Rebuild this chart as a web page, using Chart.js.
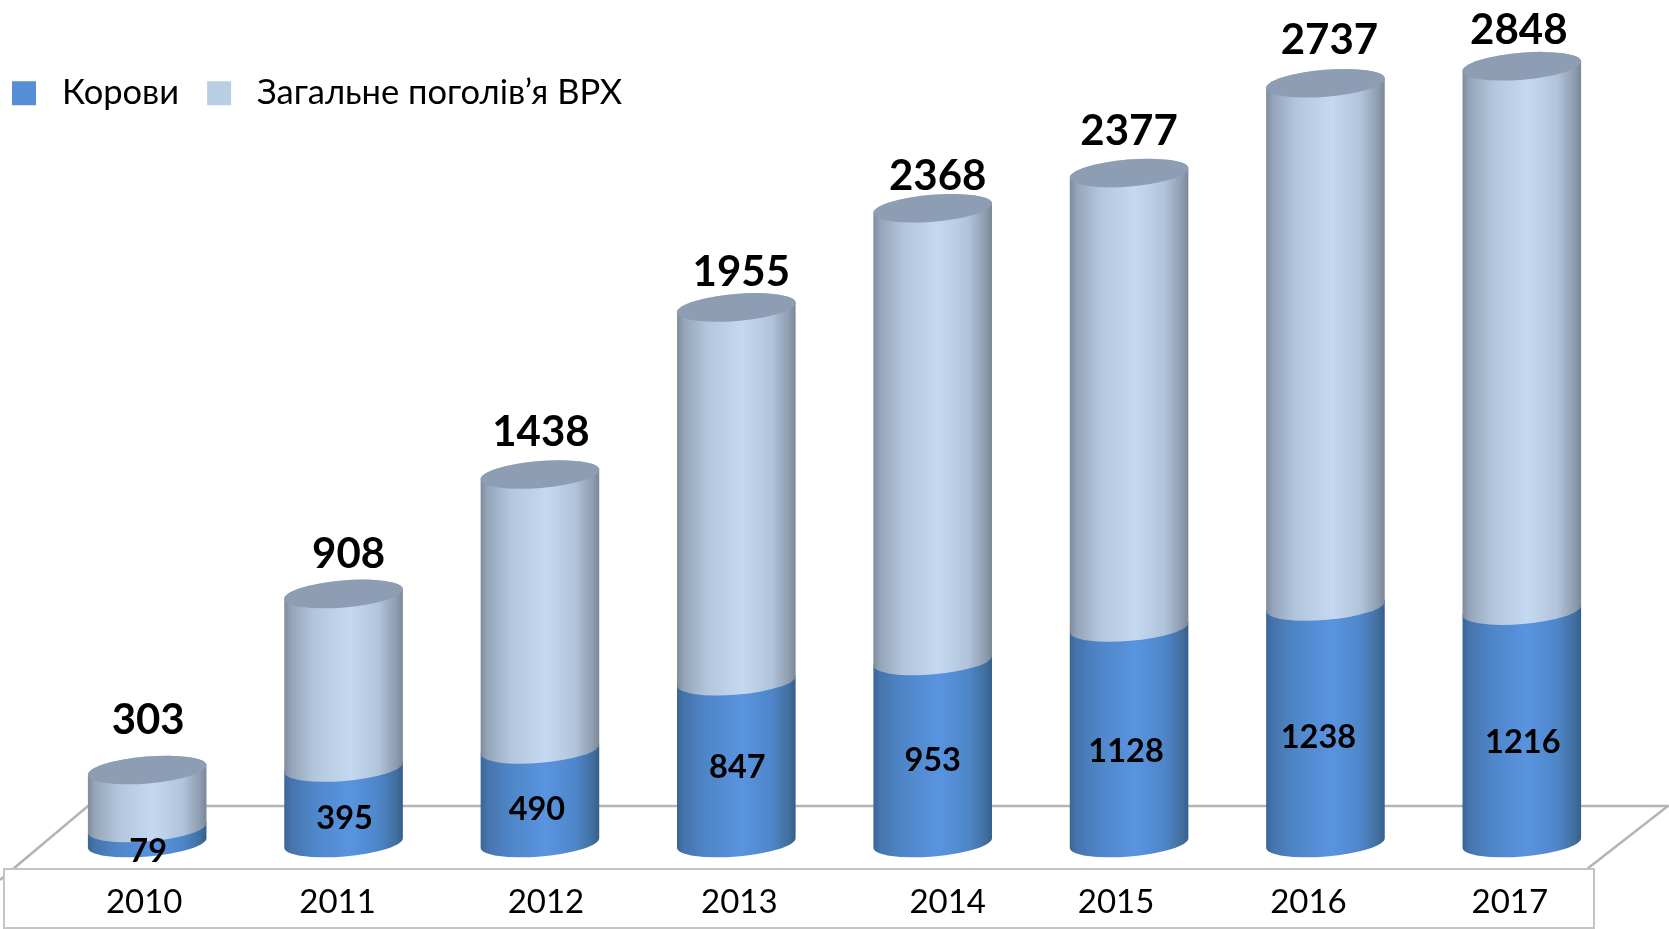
<!DOCTYPE html>
<html lang="uk">
<head>
<meta charset="utf-8">
<title>Поголів’я ВРХ</title>
<script src="https://cdn.jsdelivr.net/npm/chart.js@4/dist/chart.umd.min.js"></script>
<style>
  html, body { margin: 0; background: #fff; }
  canvas { display: block; }
</style>
</head>
<body>
<canvas id="chart" width="1669" height="929"></canvas>
<script>
const years = ['2010', '2011', '2012', '2013', '2014', '2015', '2016', '2017'];
const cows = [79, 395, 490, 847, 953, 1128, 1238, 1216];
const herd = [303, 908, 1438, 1955, 2368, 2377, 2737, 2848];

// the labels were moved by hand in the original, so they sit a bit off centre
const tickShift = [-3, -6, 6, 3, 15, -13, -17, -12];
const herdShiftX = [1, 5, 1, 5, 5, 0, 4, -3];
const herdShiftY = [-9, 2, -1, 6, 9, -1, -2, 5];
const cowShiftX = [1, 1, -3, 1, 0, -3, -7, 1];
const cowShiftY = [2, -1, -1, -9, -5, 2, -1, 2];
const font = 'Lato, "Open Sans", sans-serif';

// horizontal shading of a cylinder wall
function wallGradient(ctx, x0, x1, stops) {
  const g = ctx.createLinearGradient(x0, 0, x1, 0);
  stops.forEach(s => g.addColorStop(s[0], s[1]));
  return g;
}
const cowStops = [[0, '#3a6496'], [0.06, '#4674ad'], [0.25, '#4f86c8'], [0.55, '#5994e0'], [0.8, '#4f86c9'], [0.94, '#41709f'], [1, '#355d8c']];
const herdStops = [[0, '#7d8a9b'], [0.06, '#95a5b9'], [0.25, '#b2c5dc'], [0.55, '#c4d9f1'], [0.8, '#b0c3da'], [0.94, '#8e9db0'], [1, '#7a8795']];

const TILT = -0.084;
const RY = 13.5;

function wall(ctx, x, w, top, bottom, fill) {
  ctx.beginPath();
  ctx.ellipse(x, bottom, w / 2, RY, TILT, 0, Math.PI);
  ctx.ellipse(x, top, w / 2, RY, TILT, Math.PI, Math.PI * 2);
  ctx.closePath();
  ctx.fillStyle = fill;
  ctx.fill();
}

const cylinders = {
  id: 'cylinders',
  beforeLayout(chart) {
    // legend floats over the plot, it must not take room from it
    const legend = chart.legend;
    if (!legend.fitPatched) {
      const fit = legend.fit;
      legend.fit = function () { fit.call(this); this.height = 0; };
      legend.fitPatched = true;
    }
  },
  afterLayout(chart) {
    const legend = chart.legend;
    legend.left = -16;
    legend.right = 800;
    legend.top = 48;
    legend.bottom = 150;
  },
  afterUpdate(chart) {
    chart.scales.x.getLabelItems().forEach((item, i) => {
      item.options.translation[0] += tickShift[i];
    });
  },
  beforeDraw(chart) {
    const ctx = chart.ctx;
    const area = chart.chartArea;
    const floorBack = area.bottom - 37;
    const boxTop = area.bottom + 26;
    ctx.save();
    ctx.strokeStyle = '#b4b4b4';
    ctx.lineWidth = 2.5;
    ctx.beginPath();
    ctx.moveTo(0, boxTop + 11);
    ctx.lineTo(88, floorBack);
    ctx.lineTo(chart.width - 1, floorBack);
    ctx.lineTo(1587, boxTop);
    ctx.stroke();
    ctx.strokeStyle = '#c4c4c4';
    ctx.fillStyle = '#fff';
    ctx.lineWidth = 2;
    ctx.beginPath();
    ctx.rect(4, boxTop, 1590, chart.height - boxTop - 1);
    ctx.fill();
    ctx.stroke();
    ctx.restore();
  },
  beforeDatasetsDraw(chart) {
    const ctx = chart.ctx;
    const cowBars = chart.getDatasetMeta(0).data;
    const herdBars = chart.getDatasetMeta(1).data;
    ctx.save();
    cowBars.forEach((bar, i) => {
      const top = herdBars[i];
      const x0 = bar.x - bar.width / 2;
      const x1 = bar.x + bar.width / 2;
      wall(ctx, bar.x, bar.width, bar.y, bar.base, wallGradient(ctx, x0, x1, cowStops));
      wall(ctx, bar.x, bar.width, top.y, bar.y, wallGradient(ctx, x0, x1, herdStops));
      ctx.beginPath();
      ctx.ellipse(bar.x, top.y, bar.width / 2, RY, TILT, 0, Math.PI * 2);
      ctx.fillStyle = '#8d9eb4';
      ctx.fill();
    });
    ctx.restore();
    return false;
  },
  afterDraw(chart) {
    const ctx = chart.ctx;
    const cowBars = chart.getDatasetMeta(0).data;
    const herdBars = chart.getDatasetMeta(1).data;
    ctx.save();
    ctx.fillStyle = '#000';
    ctx.textAlign = 'center';
    ctx.textBaseline = 'middle';
    ctx.font = 'bold 32.5px ' + font;
    cowBars.forEach((bar, i) => {
      ctx.fillText(cows[i], bar.x + cowShiftX[i], (bar.y + bar.base) / 2 + 14 + cowShiftY[i]);
    });
    ctx.font = 'bold 42px ' + font;
    herdBars.forEach((bar, i) => {
      ctx.fillText(herd[i], bar.x + herdShiftX[i], bar.y - 41 + herdShiftY[i]);
    });
    ctx.restore();
  }
};

new Chart(document.getElementById('chart'), {
  type: 'bar',
  data: {
    labels: years,
    datasets: [
      { label: 'Корови', data: cows, backgroundColor: '#558ed5', borderWidth: 0 },
      { label: 'Загальне поголів’я ВРХ', data: herd, backgroundColor: '#b9cde5', borderWidth: 0 }
    ]
  },
  options: {
    responsive: false,
    animation: false,
    categoryPercentage: 0.606,
    barPercentage: 1,
    layout: { padding: { left: 49, right: 49, top: 2, bottom: 0 } },
    plugins: {
      tooltip: { enabled: false },
      legend: {
        position: 'top',
        align: 'start',
        labels: {
          boxWidth: 24,
          boxHeight: 24,
          padding: 28,
          color: '#000',
          font: { family: font, size: 34.5 },
          // a little more air between swatch and text, as in the original
          generateLabels(chart) {
            return Chart.defaults.plugins.legend.labels.generateLabels(chart).map(item => {
              item.text = '\u2005' + item.text;
              return item;
            });
          }
        }
      }
    },
    scales: {
      x: {
        stacked: true,
        grid: { display: false },
        border: { display: false },
        afterFit(scale) { scale.height = 86; },
        ticks: {
          color: '#000',
          autoSkip: false,
          maxRotation: 0,
          padding: 32,
          font: { family: font, size: 33 }
        }
      },
      y: {
        stacked: true,
        display: false,
        min: 0,
        max: 4400
      }
    }
  },
  plugins: [cylinders]
});
</script>
</body>
</html>
